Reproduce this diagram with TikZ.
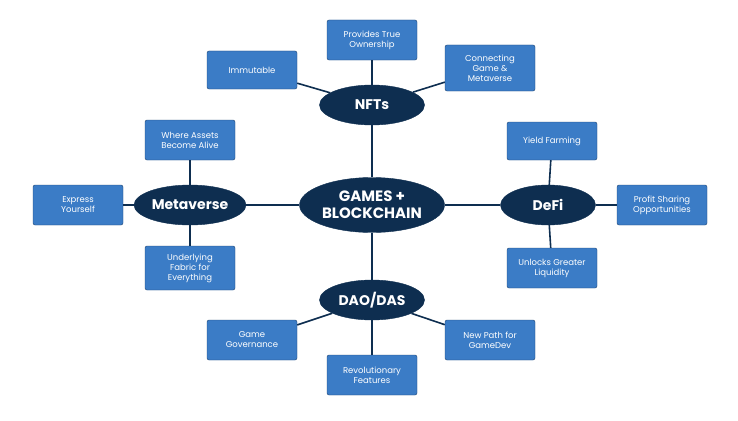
\documentclass[tikz,border=0pt]{standalone}
\usepackage{fontspec}
\setmainfont{Poppins}
\usetikzlibrary{shapes.geometric}
\definecolor{navy}{HTML}{0E2E50}
\definecolor{boxblue}{HTML}{3B7CC6}
\definecolor{boxedge}{HTML}{1F4470}
\begin{document}
\begin{tikzpicture}[
    x=1pt, y=-1pt,
    hub/.style={ellipse, draw=navy, fill=navy, text=white, inner sep=0pt, minimum height=40pt,
      font=\bfseries\fontsize{14}{16}\selectfont, align=center},
    leaf/.style={draw=boxedge, fill=boxblue, text=white, rounded corners=2pt, align=center,
      minimum width=90pt, minimum height=40pt, inner sep=2pt, font=\fontsize{8.5}{10}\selectfont},
    link/.style={navy, line width=1.6pt}
  ]
  \useasboundingbox (0,0) rectangle (738,420);
  \node[hub, minimum width=145pt, minimum height=55pt, font=\bfseries\fontsize{15}{17}\selectfont] (core) at (372,205) {GAMES +\\BLOCKCHAIN};
  \node[hub, minimum width=105pt] (nft) at (372,105) {NFTs};
  \node[hub, minimum width=112pt] (meta) at (190,205) {Metaverse};
  \node[hub, minimum width=95pt] (defi) at (548,205) {DeFi};
  \node[hub, minimum width=105pt] (dao) at (372,300) {DAO/DAS};
  % leaves
  \node[leaf, minimum height=38pt] (imm) at (252,70) {Immutable};
  \node[leaf] (own) at (372,40) {Provides True\\Ownership};
  \node[leaf, minimum height=46pt] (conn) at (490,68) {Connecting\\Game \&\\Metaverse};
  \node[leaf] (alive) at (190,140) {Where Assets\\Become Alive};
  \node[leaf] (expr) at (78,205) {Express\\Yourself};
  \node[leaf, minimum height=44pt] (fab) at (190,268) {Underlying\\Fabric for\\Everything};
  \node[leaf, minimum height=38pt] (yield) at (552,141) {Yield Farming};
  \node[leaf] (profit) at (662,205) {Profit Sharing\\Opportunities};
  \node[leaf] (liq) at (552,268) {Unlocks Greater\\Liquidity};
  \node[leaf] (gov) at (252,340) {Game\\Governance};
  \node[leaf] (rev) at (372,375) {Revolutionary\\Features};
  \node[leaf] (path) at (490,340) {New Path for\\GameDev};
  \draw[link] (core) -- (nft);
  \draw[link] (core) -- (meta);
  \draw[link] (core) -- (defi);
  \draw[link] (core) -- (dao);
  \draw[link] (nft) -- (imm);
  \draw[link] (nft) -- (own);
  \draw[link] (nft) -- (conn);
  \draw[link] (meta) -- (alive);
  \draw[link] (meta) -- (expr);
  \draw[link] (meta) -- (fab);
  \draw[link] (defi) -- (yield);
  \draw[link] (defi) -- (profit);
  \draw[link] (defi) -- (liq);
  \draw[link] (dao) -- (gov);
  \draw[link] (dao) -- (rev);
  \draw[link] (dao) -- (path);
\end{tikzpicture}
\end{document}
